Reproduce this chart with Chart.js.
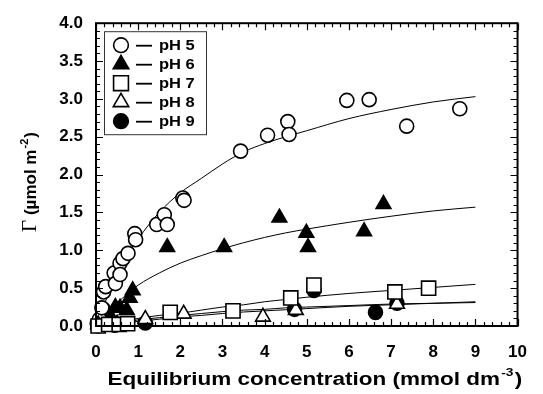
<!DOCTYPE html>
<html>
<head>
<meta charset="utf-8">
<script src="https://cdn.jsdelivr.net/npm/chart.js@4"></script>
<style>
    html, body { margin: 0; padding: 0; background: #fff; }
    #wrap { width: 543px; height: 394px; }
</style>
</head>
<body>
<div id="wrap"><canvas id="chartIsoterma" width="543" height="394"></canvas></div>
<script>
// Dados
const ph5X = [0.03, 0.08, 0.14, 0.18, 0.23, 0.43, 0.46, 0.57, 0.57, 0.64, 0.76, 0.92, 0.94, 1.44, 1.62, 1.69, 2.06, 2.09, 3.43, 4.07, 4.55, 4.58, 5.95, 6.48, 7.37, 8.63];
const ph5Y = [0.03, 0.09, 0.24, 0.45, 0.52, 0.70, 0.56, 0.83, 0.68, 0.89, 0.96, 1.22, 1.14, 1.34, 1.47, 1.34, 1.69, 1.66, 2.31, 2.52, 2.70, 2.53, 2.98, 2.99, 2.64, 2.87];

const ph6X = [0.2, 0.3, 0.46, 0.57, 0.73, 0.8, 0.87, 1.69, 3.04, 4.35, 4.99, 5.03, 6.36, 6.82];
const ph6Y = [0.04, 0.17, 0.25, 0.24, 0.21, 0.37, 0.47, 1.04, 1.04, 1.43, 1.23, 1.04, 1.25, 1.61];

const ph7X = [0.05, 0.3, 0.55, 0.75, 1.76, 3.25, 4.62, 5.17, 7.09, 7.89];
const ph7Y = [0.0, 0.02, 0.02, 0.03, 0.18, 0.20, 0.37, 0.54, 0.45, 0.50];

const ph8X = [0.05, 0.5, 1.17, 2.08, 3.96, 4.74, 7.14];
const ph8Y = [0.02, 0.03, 0.09, 0.16, 0.12, 0.21, 0.29];

const ph9X = [0.05, 0.45, 1.17, 4.71, 5.17, 6.63, 7.14];
const ph9Y = [0.0, 0.01, 0.04, 0.22, 0.47, 0.18, 0.30];

// Curvas ajustadas (lidas ponto a ponto)
const curvaX = [0, 0.25, 0.5, 0.75, 1, 1.5, 2, 2.5, 3, 3.5, 4, 4.5, 5, 6, 7, 8, 9];
const curva5 = [0, 0.36, 0.66, 0.93, 1.15, 1.50, 1.76, 1.95, 2.14, 2.30, 2.41, 2.50, 2.58, 2.74, 2.86, 2.96, 3.03];
const curva6 = [0, 0.17, 0.30, 0.43, 0.54, 0.70, 0.83, 0.93, 1.02, 1.10, 1.17, 1.23, 1.28, 1.37, 1.45, 1.52, 1.57];
const curva7 = [0, 0.025, 0.05, 0.075, 0.10, 0.14, 0.17, 0.21, 0.25, 0.28, 0.32, 0.35, 0.38, 0.43, 0.47, 0.51, 0.55];
const curva8 = [0, 0.02, 0.04, 0.06, 0.08, 0.11, 0.14, 0.165, 0.19, 0.21, 0.22, 0.24, 0.25, 0.27, 0.29, 0.30, 0.31];
const curva9 = [0, 0.015, 0.03, 0.045, 0.06, 0.09, 0.12, 0.14, 0.165, 0.185, 0.20, 0.215, 0.23, 0.26, 0.28, 0.30, 0.32];

const legendas = ['pH 5', 'pH 6', 'pH 7', 'pH 8', 'pH 9'];
const xTicks = [0, 1, 2, 3, 4, 5, 6, 7, 8, 9, 10];
const yTicks = [0, 0.5, 1, 1.5, 2, 2.5, 3, 3.5, 4];

const sans = '"Liberation Sans", Arial, sans-serif';

function pares(xs, ys) {
    return xs.map((x, i) => ({ x: x, y: ys[i] }));
}

const estilos = [
    { pointStyle: 'circle', radius: 7, fill: '#fff' },
    { pointStyle: 'triangle', radius: 8.5, fill: '#000' },
    { pointStyle: 'rect', radius: 10, fill: '#fff' },
    { pointStyle: 'triangle', radius: 8.5, fill: '#fff' },
    { pointStyle: 'circle', radius: 7, fill: '#000' }
];
const ordens = [3, 4, 1, 2, 5];
const pontosX = [ph5X, ph6X, ph7X, ph8X, ph9X];
const pontosY = [ph5Y, ph6Y, ph7Y, ph8Y, ph9Y];
const curvas = [curva5, curva6, curva7, curva8, curva9];

const datasets = [];
curvas.forEach((c, i) => {
    datasets.push({
        label: legendas[i] + ' ajuste',
        data: pares(curvaX, c),
        showLine: true,
        borderColor: '#000',
        borderWidth: 1,
        pointRadius: 0,
        cubicInterpolationMode: 'monotone',
        fill: false,
        order: 10
    });
});
pontosX.forEach((xs, i) => {
    datasets.push({
        label: legendas[i],
        data: pares(xs, pontosY[i]),
        showLine: false,
        pointStyle: estilos[i].pointStyle,
        pointRadius: estilos[i].radius,
        pointBackgroundColor: estilos[i].fill,
        pointBorderColor: '#000',
        pointBorderWidth: 1.6,
        clip: false,
        order: ordens[i]
    });
});

// Moldura com marcas internas
const molduraPlugin = {
    id: 'moldura',
    afterDatasetsDraw(chart) {
        const { ctx, chartArea: a, scales } = chart;
        ctx.save();
        ctx.strokeStyle = '#000';
        ctx.lineWidth = 1.2;
        ctx.beginPath();
        for (let i = 0; i <= 50; i++) {
            const px = Math.round(scales.x.getPixelForValue(i / 5)) + 0.5;
            const len = i % 5 === 0 ? 7 : 4;
            ctx.moveTo(px, a.bottom); ctx.lineTo(px, a.bottom - len);
            ctx.moveTo(px, a.top); ctx.lineTo(px, a.top + len);
        }
        for (let i = 0; i <= 40; i++) {
            const py = Math.round(scales.y.getPixelForValue(i / 10)) + 0.5;
            const len = i % 5 === 0 ? 7 : 4;
            ctx.moveTo(a.left, py); ctx.lineTo(a.left + len, py);
            ctx.moveTo(a.right, py); ctx.lineTo(a.right - len, py);
        }
        ctx.stroke();
        ctx.lineWidth = 2;
        ctx.strokeRect(a.left, a.top, a.right - a.left, a.bottom - a.top);
        ctx.restore();
    }
};

function desenharSimbolo(ctx, est, x, y) {
    ctx.fillStyle = est.fill;
    ctx.strokeStyle = '#000';
    ctx.lineWidth = 1.6;
    ctx.beginPath();
    const r = est.radius;
    if (est.pointStyle === 'circle') {
        ctx.arc(x, y, r, 0, Math.PI * 2);
    } else if (est.pointStyle === 'rect') {
        const s = r * Math.SQRT1_2;
        ctx.rect(x - s, y - s, 2 * s, 2 * s);
    } else {
        for (let k = 0; k < 3; k++) {
            const ang = k * 2 * Math.PI / 3;
            const px = x + Math.sin(ang) * r;
            const py = y - Math.cos(ang) * r;
            if (k === 0) ctx.moveTo(px, py); else ctx.lineTo(px, py);
        }
        ctx.closePath();
    }
    ctx.fill();
    ctx.stroke();
}

// Legenda e títulos dos eixos
const legendaPlugin = {
    id: 'legendaCustom',
    afterDraw(chart) {
        const { ctx, chartArea: a } = chart;
        ctx.save();
        const bx = a.left + 8, by = a.top + 8;
        ctx.fillStyle = '#fff';
        ctx.fillRect(bx, by, 102, 103);
        ctx.strokeStyle = '#333';
        ctx.lineWidth = 1;
        ctx.strokeRect(bx + 0.5, by + 0.5, 102, 103);
        legendas.forEach((txt, i) => {
            const cy = by + 14 + i * 19;
            desenharSimbolo(ctx, { ...estilos[i], radius: estilos[i].radius * 1.05 }, bx + 17, cy);
            ctx.strokeStyle = '#000';
            ctx.lineWidth = 1.8;
            ctx.beginPath();
            ctx.moveTo(bx + 32, cy + 0.5);
            ctx.lineTo(bx + 48, cy + 0.5);
            ctx.stroke();
            ctx.fillStyle = '#000';
            ctx.font = 'bold 15px ' + sans;
            ctx.textBaseline = 'middle';
            ctx.textAlign = 'left';
            ctx.save();
            ctx.translate(bx + 55, cy + 1);
            ctx.scale(1.1, 1);
            ctx.fillText(txt, 0, 0);
            ctx.restore();
        });

        // Título do eixo x (texto um pouco alargado, como no original)
        ctx.fillStyle = '#000';
        ctx.textBaseline = 'alphabetic';
        const fx = 'bold 18px ' + sans;
        const fsup = 'bold 11px ' + sans;
        const t1 = 'Equilibrium concentration (mmol dm', t2 = '-3', t3 = ')';
        ctx.font = fx; const w1 = ctx.measureText(t1).width; const w3 = ctx.measureText(t3).width;
        ctx.font = fsup; const w2 = ctx.measureText(t2).width;
        const total = w1 + w2 + w3 + 2;
        ctx.save();
        ctx.translate((a.left + a.right) / 2 + 8, 385);
        ctx.scale(1.25, 1);
        let x0 = -total / 2;
        ctx.font = fx; ctx.fillText(t1, x0, 0);
        ctx.font = fsup; ctx.fillText(t2, x0 + w1 + 1, -9);
        ctx.font = fx; ctx.fillText(t3, x0 + w1 + w2 + 2, 0);
        ctx.restore();

        // Título do eixo y
        ctx.translate(36, 182);
        ctx.rotate(-Math.PI / 2);
        const fg = '21px "Liberation Serif", "Times New Roman", serif';
        const fy = 'bold 17px ' + sans;
        const g = '\u0393', y1 = ' (\u00B5mol m', y2 = '-2', y3 = ')';
        ctx.font = fg; const wg = ctx.measureText(g).width;
        ctx.font = fy; const wy1 = ctx.measureText(y1).width; const wy3 = ctx.measureText(y3).width;
        ctx.font = fsup; const wy2 = ctx.measureText(y2).width;
        let s = -(wg + wy1 + wy2 + wy3 + 2) / 2;
        ctx.font = fg; ctx.fillText(g, s, 0); s += wg;
        ctx.font = fy; ctx.fillText(y1, s, 0); s += wy1 + 1;
        ctx.font = fsup; ctx.fillText(y2, s, -8); s += wy2 + 1;
        ctx.font = fy; ctx.fillText(y3, s, 0);
        ctx.restore();
    }
};

const ctxIso = document.getElementById('chartIsoterma').getContext('2d');
const chartIsoterma = new Chart(ctxIso, {
    type: 'scatter',
    data: { datasets: datasets },
    options: {
        responsive: false,
        animation: false,
        events: [],
        layout: { padding: { left: 0, right: 10, top: 21, bottom: 0 } },
        plugins: {
            legend: { display: false },
            tooltip: { enabled: false }
        },
        scales: {
            x: {
                type: 'linear',
                min: 0,
                max: 10,
                afterBuildTicks: (scale) => { scale.ticks = xTicks.map(v => ({ value: v })); },
                afterFit: (scale) => { scale.height = 68; },
                ticks: {
                    color: '#000',
                    font: { family: sans, size: 17, weight: 'bold' },
                    padding: 16,
                    maxRotation: 0,
                    callback: (v) => String(v)
                },
                grid: { display: false, drawTicks: false },
                border: { display: false }
            },
            y: {
                type: 'linear',
                min: 0,
                max: 4,
                afterBuildTicks: (scale) => { scale.ticks = yTicks.map(v => ({ value: v })); },
                afterFit: (scale) => { scale.width = 96; },
                ticks: {
                    color: '#000',
                    font: { family: sans, size: 17, weight: 'bold' },
                    padding: 13,
                    callback: (v) => Number(v).toFixed(1)
                },
                grid: { display: false, drawTicks: false },
                border: { display: false }
            }
        }
    },
    plugins: [molduraPlugin, legendaPlugin]
});
</script>
</body>
</html>
